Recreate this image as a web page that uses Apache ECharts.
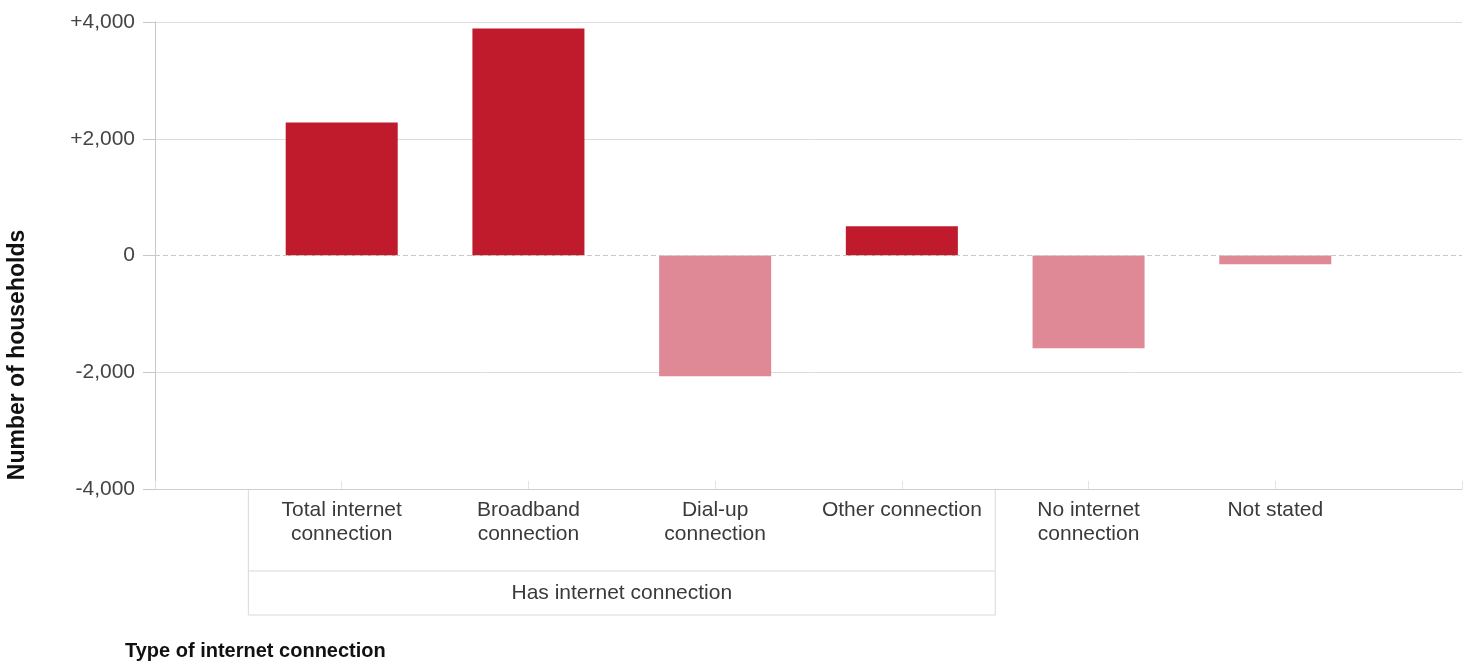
<!DOCTYPE html>
<html><head><meta charset="utf-8">
<script src="https://cdn.jsdelivr.net/npm/echarts@6/dist/echarts.min.js"></script>
<style>html,body{margin:0;padding:0;background:#fff}#c{width:1472px;height:665px}</style>
</head><body><div id="c"></div>
<script>
const categories = ["Total internet\nconnection", "Broadband\nconnection", "Dial-up\nconnection", "Other connection", "No internet\nconnection", "Not stated"];
const values = [2280, 3890, -2070, 500, -1590, -150];
const yTicks = [-4000, -2000, 0, 2000, 4000];
const groupLabel = "Has internet connection";
const groupFirst = 0, groupLast = 3;
const xTitle = "Type of internet connection";
const yTitle = "Number of households";

const FONT = "Arial, 'Liberation Sans', sans-serif";
const POS = '#c01b2c', NEG = '#e08996';
const axisCats = [""].concat(categories, [""]);
const barData = [null].concat(values.map(v => ({ value: v, itemStyle: { color: v >= 0 ? POS : NEG } })), [null]);

const chart = echarts.init(document.getElementById('c'), null, { renderer: 'canvas' });
const fmt = v => (v > 0 ? '+' : '') + v.toLocaleString('en-US');
chart.setOption({
  animation: false,
  backgroundColor: '#fff',
  grid: { left: 155, right: 10, top: 22, bottom: 176, containLabel: false },
  title: {
    text: xTitle, left: 125, top: 641, padding: 0,
    textStyle: { fontFamily: FONT, fontSize: 20, fontWeight: 'bold', color: '#111' }
  },
  xAxis: {
    type: 'category', data: axisCats, boundaryGap: false, position: 'bottom',
    axisLine: { onZero: false, lineStyle: { color: '#cfcfcf', width: 1 } },
    axisTick: { show: true, inside: true, length: 8, interval: 0, lineStyle: { color: '#e4e4e4' } },
    axisLabel: { interval: 0, margin: 9, fontFamily: FONT, fontSize: 21, lineHeight: 24, color: '#3a3a3a' },
    splitLine: { show: false }
  },
  yAxis: {
    type: 'value', min: yTicks[0], max: yTicks[yTicks.length - 1], interval: 2000,
    axisLine: { show: true, lineStyle: { color: '#c8c8c8' } },
    axisTick: { show: true, length: 12, lineStyle: { color: '#c8c8c8' } },
    axisLabel: { margin: 20, fontFamily: FONT, fontSize: 21, color: '#444', formatter: fmt },
    splitLine: { show: true, lineStyle: { color: ['#dcdcdc', '#dcdcdc', 'rgba(0,0,0,0)', '#dcdcdc', '#dcdcdc'], width: 1 } }
  },
  series: [{
    type: 'bar', data: barData, barWidth: '60%',
    markLine: {
      silent: true, symbol: 'none', label: { show: false },
      lineStyle: { color: '#c8c8c8', type: [5, 3], width: 1 },
      data: [{ yAxis: 0 }]
    }
  }]
});

function px(i) { return chart.convertToPixel({ xAxisIndex: 0 }, i); }
const axisY = chart.convertToPixel({ yAxisIndex: 0 }, yTicks[0]);
const gl = (px(groupFirst) + px(groupFirst + 1)) / 2;
const gr = (px(groupLast + 1) + px(groupLast + 2)) / 2;
const divY = axisY + 82, botY = axisY + 126;
const boxStyle = { stroke: '#d8d8d8', lineWidth: 1 };
chart.setOption({
  graphic: [
    { type: 'line', shape: { x1: gl, y1: axisY, x2: gl, y2: botY }, style: boxStyle, silent: true },
    { type: 'line', shape: { x1: gr, y1: axisY, x2: gr, y2: botY }, style: boxStyle, silent: true },
    { type: 'line', shape: { x1: gl, y1: divY, x2: gr, y2: divY }, style: boxStyle, silent: true },
    { type: 'line', shape: { x1: gl, y1: botY, x2: gr, y2: botY }, style: boxStyle, silent: true },
    { type: 'text', x: (gl + gr) / 2, y: (divY + botY) / 2, silent: true,
      style: { text: groupLabel, fontFamily: FONT, fontSize: 21, fill: '#3a3a3a', textAlign: 'center', textVerticalAlign: 'middle' } },
    { type: 'text', x: 18, y: 355, rotation: Math.PI / 2, silent: true,
      style: { text: yTitle, fontFamily: FONT, fontSize: 23, fontWeight: 'bold', fill: '#111', textAlign: 'center', textVerticalAlign: 'middle' } }
  ]
});
</script></body></html>
